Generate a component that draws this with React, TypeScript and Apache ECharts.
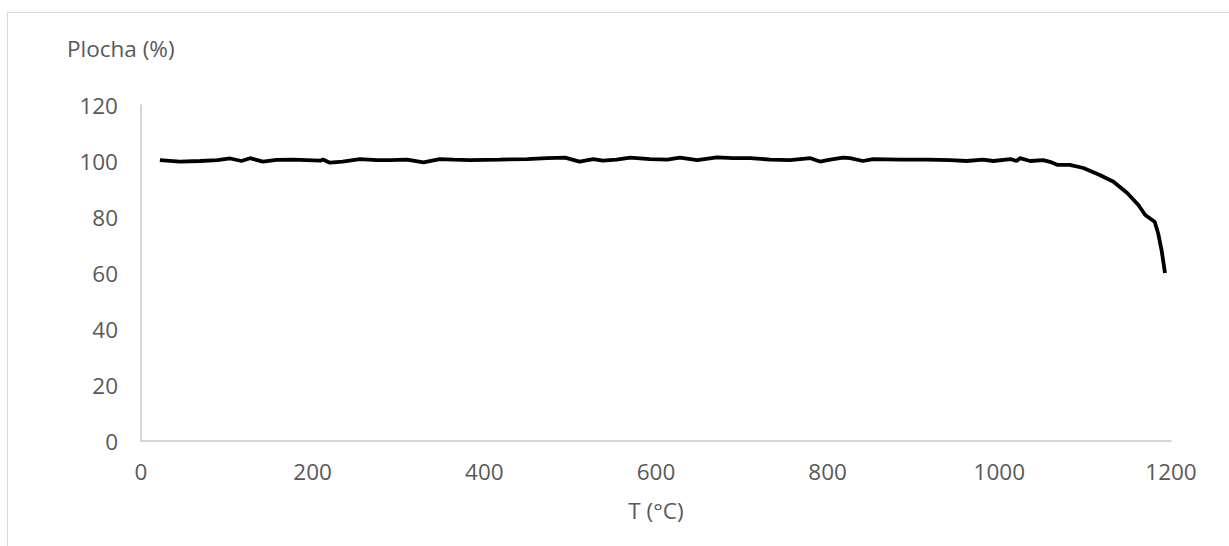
import React, { useEffect, useRef } from "react";
import * as echarts from "echarts";

// Temperature (°C) and relative area (%) of the sample during heating
const tempC = [
  22, 45, 69, 89, 104, 117, 127, 142, 158, 177, 193, 209, 212, 220, 235, 255,
  275, 290, 310, 329, 348, 364, 383, 418, 450, 473, 494, 511, 527, 538, 554,
  570, 593, 613, 628, 648, 671, 690, 710, 733, 756, 780, 791, 803, 818, 826,
  841, 853, 884, 916, 943, 962, 981, 993, 1013, 1020, 1024, 1036, 1051, 1059,
  1068, 1082, 1098, 1117, 1133, 1149, 1162, 1170, 1181, 1185, 1189, 1193,
];
const plocha = [
  100.3, 99.8, 100.0, 100.3, 100.9, 100.0, 101.0, 99.8, 100.4, 100.5, 100.3,
  100.1, 100.5, 99.4, 99.8, 100.7, 100.3, 100.3, 100.5, 99.5, 100.7, 100.5,
  100.3, 100.5, 100.7, 101.0, 101.2, 99.8, 100.7, 100.1, 100.5, 101.2, 100.7,
  100.5, 101.2, 100.3, 101.3, 101.0, 101.0, 100.5, 100.3, 101.0, 99.8, 100.5,
  101.2, 101.0, 100.0, 100.7, 100.5, 100.5, 100.3, 100.0, 100.5, 100.0, 100.7,
  100.0, 101.0, 100.0, 100.3, 99.7, 98.6, 98.6, 97.5, 95.0, 92.6, 88.6, 84.3,
  80.7, 78.3, 74.2, 68.2, 60.0,
];

const xTicks = { min: 0, max: 1200, interval: 200 };
const yTicks = { min: 0, max: 120, interval: 20 };

const FONT = "'Open Sans', 'Liberation Sans', sans-serif";
const TEXT = "#595959";
const AXIS = "#c8c8c8";
const FS = 22.5;

export default function App() {
  const ref = useRef<HTMLDivElement>(null);

  useEffect(() => {
    if (!ref.current) return;
    const chart = echarts.init(ref.current, undefined, { renderer: "svg" });
    chart.setOption({
      animation: false,
      backgroundColor: "#ffffff",
      textStyle: { fontFamily: FONT },
      grid: { left: 141, right: 58, top: 105, bottom: 105 },
      graphic: [
        {
          type: "rect",
          shape: { x: 7.5, y: 12.5, width: 1300, height: 600 },
          style: { fill: "none", stroke: "#d9d9d9", lineWidth: 1 },
          silent: true,
        },
        {
          type: "text",
          left: 67,
          top: 37,
          style: {
            text: "Plocha (%)",
            fill: TEXT,
            font: `${FS}px ${FONT}`,
          },
        },
      ],
      xAxis: {
        type: "value",
        ...xTicks,
        name: "T (°C)",
        nameLocation: "middle",
        nameGap: 58,
        nameTextStyle: { color: TEXT, fontSize: FS, fontFamily: FONT },
        axisLine: { show: true, lineStyle: { color: AXIS, width: 1.5 } },
        axisTick: { show: false },
        splitLine: { show: false },
        axisLabel: {
          color: TEXT,
          fontSize: FS,
          margin: 19,
          fontFamily: FONT,
          formatter: (v: number) => String(v),
        },
      },
      yAxis: {
        type: "value",
        ...yTicks,
        axisLine: { show: true, lineStyle: { color: AXIS, width: 1.5 } },
        axisTick: { show: false },
        splitLine: { show: false },
        axisLabel: {
          color: TEXT,
          fontSize: FS,
          margin: 23,
          fontFamily: FONT,
          formatter: (v: number) => String(v),
        },
      },
      series: [
        {
          type: "line",
          data: tempC.map((t, i) => [t, plocha[i]]),
          showSymbol: false,
          smooth: false,
          lineStyle: { color: "#000000", width: 3.8 },
        },
      ],
    });
    return () => chart.dispose();
  }, []);

  return (
    <div
      ref={ref}
      style={{ position: "absolute", left: 0, top: 0, width: 1229, height: 546 }}
    />
  );
}
